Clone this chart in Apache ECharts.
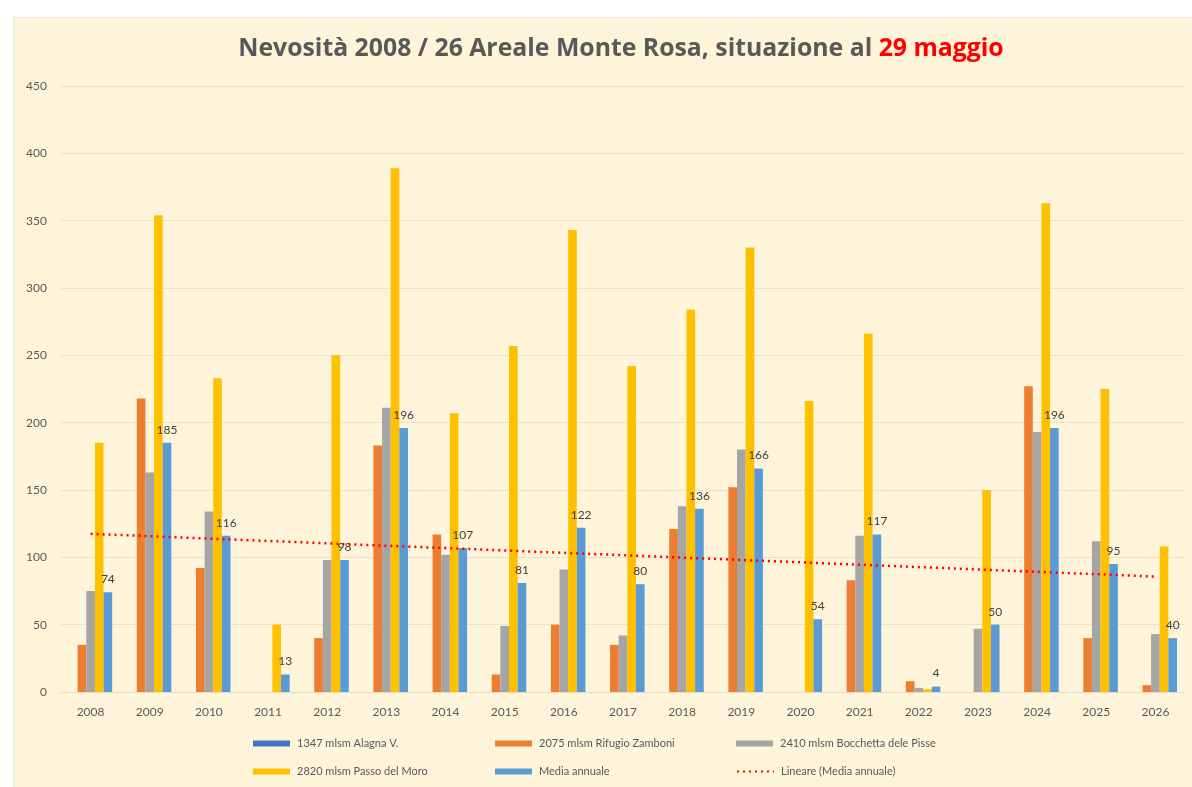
<!DOCTYPE html>
<html>
<head>
<meta charset="utf-8">
<title>Nevosità Monte Rosa</title>
<script src="https://cdn.jsdelivr.net/npm/echarts@6/dist/echarts.min.js"></script>
<style>
  html, body { margin: 0; padding: 0; background: #fff; }
  #chart {
    position: absolute;
    left: 13px;
    top: 17px;
    width: 1179px;
    height: 770px;
    background: #fef4d9;
    border-left: 1px solid #e6e6e6;
    border-top: 1px solid #e6e6e6;
  }
</style>
</head>
<body>
<div id="chart"></div>
<script>
// anni
var years = ["2008", "2009", "2010", "2011", "2012", "2013", "2014", "2015", "2016", "2017",
  "2018", "2019", "2020", "2021", "2022", "2023", "2024", "2025", "2026"];
// cm di neve per stazione
var alagna = [0, 0, 0, 0, 0, 0, 0, 0, 0, 0, 0, 0, 0, 0, 0, 0, 0, 0, 0];
var zamboni = [35, 218, 92, 0, 40, 183, 117, 13, 50, 35, 121, 152, 0, 83, 8, 0, 227, 40, 5];
var bocchetta = [75, 163, 134, 0, 98, 211, 102, 49, 91, 42, 138, 180, 0, 116, 3, 47, 193, 112, 43];
var moro = [185, 354, 233, 50, 250, 389, 207, 257, 343, 242, 284, 330, 216, 266, 2, 150, 363, 225, 108];
var media = [74, 185, 116, 13, 98, 196, 107, 81, 122, 80, 136, 166, 54, 117, 4, 50, 196, 95, 40];

var names = [
  "1347 mlsm Alagna V.",
  "2075 mlsm Rifugio Zamboni",
  "2410 mlsm Bocchetta dele Pisse",
  "2820 mlsm Passo del Moro",
  "Media annuale",
  "Lineare (Media annuale)"
];

// linea di tendenza (minimi quadrati sulla media annuale)
function trend(arr) {
  var n = arr.length, mx = (n - 1) / 2, my = 0;
  arr.forEach(function (v) { my += v; });
  my = my / n;
  var sxy = 0, sxx = 0;
  arr.forEach(function (v, i) {
    sxy += (i - mx) * (v - my);
    sxx += (i - mx) * (i - mx);
  });
  var b = sxy / sxx;
  return arr.map(function (v, i) { return +(my + b * (i - mx)).toFixed(2); });
}

var font = "Lato, 'Open Sans', sans-serif";
var txt = "#595959";

function legendAt(name, left, top, isLine) {
  var l = {
    data: [name],
    left: left,
    top: top,
    padding: 0,
    itemGap: 0,
    itemWidth: 37,
    itemHeight: 6,
    textStyle: { fontSize: 11, color: txt, fontFamily: font, padding: [0, 0, 0, 2] }
  };
  if (!isLine) {
    l.icon = "rect";
  } else {
    l.itemStyle = { opacity: 0 };
  }
  return l;
}

var myChart = echarts.init(document.getElementById("chart"));
var option = {
  backgroundColor: "#fef4d9",
  animation: false,
  title: {
    left: 602,
    textAlign: "center",
    top: 13,
    text: "{a|Nevosità 2008 / 26 Areale Monte Rosa, situazione al }{b|29 maggio}",
    textStyle: {
      rich: {
        a: { fontSize: 24.8, fontWeight: "bold", color: "#595959", fontFamily: "'Open Sans', sans-serif" },
        b: { fontSize: 24.8, fontWeight: "bold", color: "#ff0000", fontFamily: "'Open Sans', sans-serif" }
      }
    }
  },
  legend: [
    legendAt(names[0], 239, 720),
    legendAt(names[1], 481, 720),
    legendAt(names[2], 722, 720),
    legendAt(names[3], 239, 748),
    legendAt(names[4], 481, 748),
    legendAt(names[5], 722, 748, true)
  ],
  grid: {
    left: 47,
    right: 8,
    top: 68,
    bottom: 96
  },
  xAxis: {
    type: "category",
    data: years,
    axisTick: { show: false },
    axisLine: { show: true, lineStyle: { color: "#e6dcc2" } },
    axisLabel: { color: txt, fontSize: 12, fontFamily: font, margin: 14 }
  },
  yAxis: {
    type: "value",
    min: 0,
    max: 450,
    interval: 50,
    axisLine: { show: false },
    axisTick: { show: false },
    splitLine: { lineStyle: { color: "#ebe2c8", width: 1 } },
    axisLabel: { color: txt, fontSize: 12, fontFamily: font, margin: 14 }
  },
  series: [
    {
      name: names[0],
      type: "bar",
      data: alagna,
      barGap: "0%",
      barCategoryGap: "27%",
      itemStyle: { color: "#4472c4" }
    },
    {
      name: names[1],
      type: "bar",
      data: zamboni,
      itemStyle: { color: "#ed7d31" }
    },
    {
      name: names[2],
      type: "bar",
      data: bocchetta,
      itemStyle: { color: "#a5a5a5" }
    },
    {
      name: names[3],
      type: "bar",
      data: moro,
      itemStyle: { color: "#ffc000" }
    },
    {
      name: names[4],
      type: "bar",
      data: media,
      itemStyle: { color: "#5b9bd5" },
      label: {
        show: true,
        position: "top",
        distance: 7,
        color: "#404040",
        fontSize: 12,
        fontFamily: font
      }
    },
    {
      name: names[5],
      type: "line",
      data: trend(media),
      symbol: "none",
      z: 5,
      lineStyle: { color: "#ff0000", width: 2.5, type: [2, 4] },
      itemStyle: { color: "#ff0000" }
    }
  ]
};
myChart.setOption(option);
window.addEventListener("resize", function () {
  myChart.resize();
});
</script>
</body>
</html>
